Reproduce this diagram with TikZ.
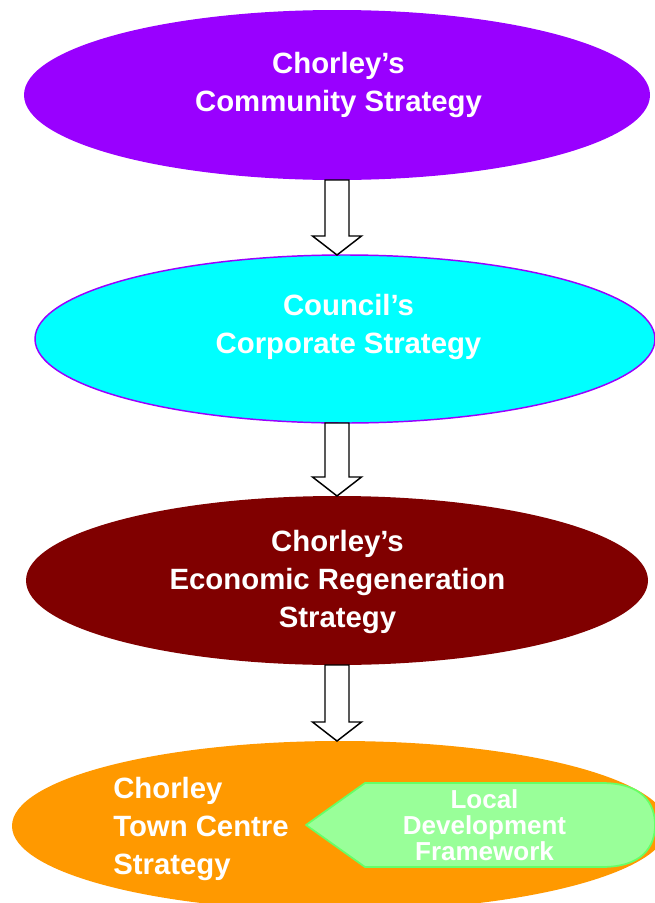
\documentclass[tikz,border=0pt]{standalone}
\usepackage{fontspec}
\setmainfont{Liberation Sans}
\usetikzlibrary{shapes.geometric, calc}
\definecolor{commpurple}{HTML}{9900FF}
\definecolor{corpcyan}{HTML}{00FFFF}
\definecolor{econmaroon}{HTML}{800000}
\definecolor{townorange}{HTML}{FF9900}
\definecolor{ldffill}{HTML}{99FF99}
\definecolor{ldfdraw}{HTML}{66FF66}
\begin{document}
\begin{tikzpicture}[
    x=0.75pt, y=-0.75pt,
    plan/.style={ellipse, inner sep=0pt, outer sep=0pt},
    title/.style={text=white, font=\bfseries\fontsize{22}{28.5}\selectfont, align=center, anchor=base},
    blockarrow/.style={draw=black, fill=white, line width=1.1pt, line join=miter},
    ldfbox/.style={fill=ldffill, draw=ldfdraw, line width=1.3pt, line join=round}
]
\fill[white] (0,0) rectangle (654,903);
\useasboundingbox (0,0) rectangle (654,903);
% Strategy ellipses, top to bottom
\node[plan, fill=commpurple, minimum width=469.5pt, minimum height=127.5pt] (comm) at (337,95) {};
\node[plan, fill=corpcyan, draw=commpurple, line width=1.1pt, minimum width=465pt, minimum height=126pt] (corp) at (345,339) {};
\node[plan, fill=econmaroon, minimum width=466.5pt, minimum height=126.75pt] (econ) at (337,580.5) {};
\node[plan, fill=townorange, minimum width=492pt, minimum height=127.5pt] (town) at (340,826) {};
% Block arrows between them
\coordinate (tip1) at (corp.north -| comm.south);
\coordinate (top2) at (corp.south -| econ.north);
\coordinate (tip3) at (town.north -| econ.south);
\draw[blockarrow] ($(comm.south)+(-12,0)$) -- ($(comm.south)+(12,0)$) -- ($(tip1)+(12,-19)$) -- ($(tip1)+(24.5,-19)$)
    -- (tip1) -- ($(tip1)+(-24.5,-19)$) -- ($(tip1)+(-12,-19)$) -- cycle;
\draw[blockarrow] ($(top2)+(-12,0)$) -- ($(top2)+(12,0)$) -- ($(econ.north)+(12,-19)$) -- ($(econ.north)+(24.5,-19)$)
    -- (econ.north) -- ($(econ.north)+(-24.5,-19)$) -- ($(econ.north)+(-12,-19)$) -- cycle;
\draw[blockarrow] ($(econ.south)+(-12,0)$) -- ($(econ.south)+(12,0)$) -- ($(tip3)+(12,-19)$) -- ($(tip3)+(24.5,-19)$)
    -- (tip3) -- ($(tip3)+(-24.5,-19)$) -- ($(tip3)+(-12,-19)$) -- cycle;
% Local development framework tag
\draw[ldfbox] (306,825) -- (365,783) -- (602,783) .. controls (642,783) and (655,803) .. (655,825)
    .. controls (655,847) and (642,867) .. (602,867) -- (365,867) -- cycle;
% Labels (anchored on the last line's baseline)
\node[title] (commtext) at (338.5,111) {Chorley’s\\Community Strategy};
\node[title] (corptext) at (348.5,353) {Council’s\\Corporate Strategy};
\node[title] (econtext) at (337.5,627) {Chorley’s\\Economic Regeneration\\Strategy};
\node[title, anchor=base west, align=left, inner xsep=0pt] (towntext) at (113,874) {Chorley\\Town Centre\\Strategy};
\node[title, font=\bfseries\fontsize{19.5}{19.5}\selectfont] (ldftext) at (484.5,860) {Local\\Development\\Framework};
\end{tikzpicture}
\end{document}
